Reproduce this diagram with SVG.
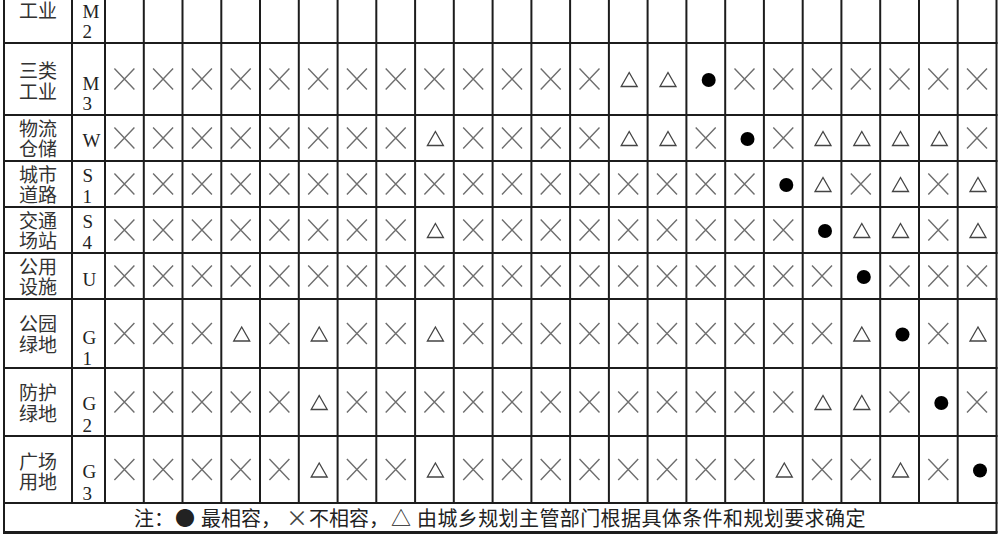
<svg xmlns="http://www.w3.org/2000/svg" xmlns:xlink="http://www.w3.org/1999/xlink" width="1000" height="535" viewBox="0 0 1000 535">
<style>
.bg{fill:#ffffff}
.grid line{stroke:#1c1c1c;stroke-width:2}
.lab{font-family:"Noto Sans CJK SC","Noto Sans",sans-serif;font-size:19px;fill:#333;text-anchor:middle}
.code{font-family:"Liberation Serif",serif;font-size:19px;fill:#222}
.note{font-family:"Noto Sans CJK SC","Noto Sans",sans-serif;font-size:20px;fill:#222}
</style>
<defs>
<g id="X"><path d="M-10,-10.5 L10,10.5 M10,-10.5 L-10,10.5" stroke="#6e6e6e" stroke-width="1.4" fill="none"/></g>
<g id="T"><polygon points="1,-6.5 9,7.5 -7,7.5" fill="none" stroke="#444" stroke-width="1.3" stroke-linejoin="miter"/></g>
<g id="O"><circle cx="3" cy="1" r="7" fill="#000"/></g>
</defs>
<rect class="bg" x="0" y="0" width="1000" height="535"/>

<g id="grid" class="grid">
<line x1="4" y1="0" x2="4" y2="533"/>
<line x1="72" y1="0" x2="72" y2="503"/>
<line x1="105" y1="0" x2="105" y2="503"/>
<line x1="143.8" y1="0" x2="143.8" y2="503"/>
<line x1="182.5" y1="0" x2="182.5" y2="503"/>
<line x1="221.3" y1="0" x2="221.3" y2="503"/>
<line x1="260" y1="0" x2="260" y2="503"/>
<line x1="298.8" y1="0" x2="298.8" y2="503"/>
<line x1="337.6" y1="0" x2="337.6" y2="503"/>
<line x1="376.3" y1="0" x2="376.3" y2="503"/>
<line x1="415.1" y1="0" x2="415.1" y2="503"/>
<line x1="453.8" y1="0" x2="453.8" y2="503"/>
<line x1="492.6" y1="0" x2="492.6" y2="503"/>
<line x1="531.4" y1="0" x2="531.4" y2="503"/>
<line x1="570.1" y1="0" x2="570.1" y2="503"/>
<line x1="608.9" y1="0" x2="608.9" y2="503"/>
<line x1="647.6" y1="0" x2="647.6" y2="503"/>
<line x1="686.4" y1="0" x2="686.4" y2="503"/>
<line x1="725.2" y1="0" x2="725.2" y2="503"/>
<line x1="763.9" y1="0" x2="763.9" y2="503"/>
<line x1="802.7" y1="0" x2="802.7" y2="503"/>
<line x1="841.4" y1="0" x2="841.4" y2="503"/>
<line x1="880.2" y1="0" x2="880.2" y2="503"/>
<line x1="919" y1="0" x2="919" y2="503"/>
<line x1="957.7" y1="0" x2="957.7" y2="503"/>
<line x1="996.5" y1="0" x2="996.5" y2="533"/>
<line x1="3" y1="43" x2="997.5" y2="43"/>
<line x1="3" y1="115" x2="997.5" y2="115"/>
<line x1="3" y1="161" x2="997.5" y2="161"/>
<line x1="3" y1="207" x2="997.5" y2="207"/>
<line x1="3" y1="253" x2="997.5" y2="253"/>
<line x1="3" y1="299" x2="997.5" y2="299"/>
<line x1="3" y1="368" x2="997.5" y2="368"/>
<line x1="3" y1="436" x2="997.5" y2="436"/>
<line x1="3" y1="503" x2="997.5" y2="503"/>
<line x1="3" y1="532.5" x2="997.5" y2="532.5" style="stroke-width:3"/>
</g>

<g id="row-M2">
<text class="lab" x="38" y="18">工业</text>
<text class="code"><tspan x="82.5" y="18">M</tspan><tspan x="82.5" y="38">2</tspan></text>
</g>

<g id="row-M3">
<text class="lab"><tspan x="38" y="78">三类</tspan><tspan x="38" y="99">工业</tspan></text>
<text class="code"><tspan x="82.5" y="90">M</tspan><tspan x="82.5" y="110">3</tspan></text>
<g transform="translate(0,79)">
<use href="#X" x="124.4"/><use href="#X" x="163.1"/><use href="#X" x="201.9"/><use href="#X" x="240.7"/><use href="#X" x="279.4"/><use href="#X" x="318.2"/><use href="#X" x="356.9"/><use href="#X" x="395.7"/><use href="#X" x="434.4"/><use href="#X" x="473.2"/><use href="#X" x="512"/><use href="#X" x="550.7"/><use href="#X" x="589.5"/><use href="#T" x="628.2"/><use href="#T" x="667"/><use href="#O" x="705.7"/><use href="#X" x="744.5"/><use href="#X" x="783.3"/><use href="#X" x="822"/><use href="#X" x="860.8"/><use href="#X" x="899.5"/><use href="#X" x="938.3"/><use href="#X" x="977"/>
</g>
</g>

<g id="row-W">
<text class="lab"><tspan x="38" y="136">物流</tspan><tspan x="38" y="156">仓储</tspan></text>
<text class="code" x="82.5" y="147">W</text>
<g transform="translate(0,138)">
<use href="#X" x="124.4"/><use href="#X" x="163.1"/><use href="#X" x="201.9"/><use href="#X" x="240.7"/><use href="#X" x="279.4"/><use href="#X" x="318.2"/><use href="#X" x="356.9"/><use href="#X" x="395.7"/><use href="#T" x="434.4"/><use href="#X" x="473.2"/><use href="#X" x="512"/><use href="#X" x="550.7"/><use href="#X" x="589.5"/><use href="#T" x="628.2"/><use href="#T" x="667"/><use href="#X" x="705.7"/><use href="#O" x="744.5"/><use href="#X" x="783.3"/><use href="#T" x="822"/><use href="#T" x="860.8"/><use href="#T" x="899.5"/><use href="#T" x="938.3"/><use href="#X" x="977"/>
</g>
</g>

<g id="row-S1">
<text class="lab"><tspan x="38" y="182">城市</tspan><tspan x="38" y="202">道路</tspan></text>
<text class="code"><tspan x="82.5" y="182">S</tspan><tspan x="82.5" y="203">1</tspan></text>
<g transform="translate(0,184)">
<use href="#X" x="124.4"/><use href="#X" x="163.1"/><use href="#X" x="201.9"/><use href="#X" x="240.7"/><use href="#X" x="279.4"/><use href="#X" x="318.2"/><use href="#X" x="356.9"/><use href="#X" x="395.7"/><use href="#X" x="434.4"/><use href="#X" x="473.2"/><use href="#X" x="512"/><use href="#X" x="550.7"/><use href="#X" x="589.5"/><use href="#X" x="628.2"/><use href="#X" x="667"/><use href="#X" x="705.7"/><use href="#X" x="744.5"/><use href="#O" x="783.3"/><use href="#T" x="822"/><use href="#X" x="860.8"/><use href="#T" x="899.5"/><use href="#X" x="938.3"/><use href="#T" x="977"/>
</g>
</g>

<g id="row-S4">
<text class="lab"><tspan x="38" y="228">交通</tspan><tspan x="38" y="248">场站</tspan></text>
<text class="code"><tspan x="82.5" y="228">S</tspan><tspan x="82.5" y="249">4</tspan></text>
<g transform="translate(0,230)">
<use href="#X" x="124.4"/><use href="#X" x="163.1"/><use href="#X" x="201.9"/><use href="#X" x="240.7"/><use href="#X" x="279.4"/><use href="#X" x="318.2"/><use href="#X" x="356.9"/><use href="#X" x="395.7"/><use href="#T" x="434.4"/><use href="#X" x="473.2"/><use href="#X" x="512"/><use href="#X" x="550.7"/><use href="#X" x="589.5"/><use href="#X" x="628.2"/><use href="#X" x="667"/><use href="#X" x="705.7"/><use href="#X" x="744.5"/><use href="#X" x="783.3"/><use href="#O" x="822"/><use href="#T" x="860.8"/><use href="#T" x="899.5"/><use href="#X" x="938.3"/><use href="#T" x="977"/>
</g>
</g>

<g id="row-U">
<text class="lab"><tspan x="38" y="274">公用</tspan><tspan x="38" y="294">设施</tspan></text>
<text class="code" x="82.5" y="286">U</text>
<g transform="translate(0,276)">
<use href="#X" x="124.4"/><use href="#X" x="163.1"/><use href="#X" x="201.9"/><use href="#X" x="240.7"/><use href="#X" x="279.4"/><use href="#X" x="318.2"/><use href="#X" x="356.9"/><use href="#X" x="395.7"/><use href="#X" x="434.4"/><use href="#X" x="473.2"/><use href="#X" x="512"/><use href="#X" x="550.7"/><use href="#X" x="589.5"/><use href="#X" x="628.2"/><use href="#X" x="667"/><use href="#X" x="705.7"/><use href="#X" x="744.5"/><use href="#X" x="783.3"/><use href="#X" x="822"/><use href="#O" x="860.8"/><use href="#X" x="899.5"/><use href="#X" x="938.3"/><use href="#X" x="977"/>
</g>
</g>

<g id="row-G1">
<text class="lab"><tspan x="38" y="331">公园</tspan><tspan x="38" y="352">绿地</tspan></text>
<text class="code"><tspan x="82.5" y="344">G</tspan><tspan x="82.5" y="365">1</tspan></text>
<g transform="translate(0,333.5)">
<use href="#X" x="124.4"/><use href="#X" x="163.1"/><use href="#X" x="201.9"/><use href="#T" x="240.7"/><use href="#X" x="279.4"/><use href="#T" x="318.2"/><use href="#X" x="356.9"/><use href="#X" x="395.7"/><use href="#T" x="434.4"/><use href="#X" x="473.2"/><use href="#X" x="512"/><use href="#X" x="550.7"/><use href="#X" x="589.5"/><use href="#X" x="628.2"/><use href="#X" x="667"/><use href="#X" x="705.7"/><use href="#X" x="744.5"/><use href="#X" x="783.3"/><use href="#X" x="822"/><use href="#T" x="860.8"/><use href="#O" x="899.5"/><use href="#X" x="938.3"/><use href="#T" x="977"/>
</g>
</g>

<g id="row-G2">
<text class="lab"><tspan x="38" y="400">防护</tspan><tspan x="38" y="421">绿地</tspan></text>
<text class="code"><tspan x="82.5" y="410">G</tspan><tspan x="82.5" y="432">2</tspan></text>
<g transform="translate(0,402)">
<use href="#X" x="124.4"/><use href="#X" x="163.1"/><use href="#X" x="201.9"/><use href="#X" x="240.7"/><use href="#X" x="279.4"/><use href="#T" x="318.2"/><use href="#X" x="356.9"/><use href="#X" x="395.7"/><use href="#X" x="434.4"/><use href="#X" x="473.2"/><use href="#X" x="512"/><use href="#X" x="550.7"/><use href="#X" x="589.5"/><use href="#X" x="628.2"/><use href="#X" x="667"/><use href="#X" x="705.7"/><use href="#X" x="744.5"/><use href="#X" x="783.3"/><use href="#T" x="822"/><use href="#T" x="860.8"/><use href="#X" x="899.5"/><use href="#O" x="938.3"/><use href="#X" x="977"/>
</g>
</g>

<g id="row-G3">
<text class="lab"><tspan x="38" y="469">广场</tspan><tspan x="38" y="489">用地</tspan></text>
<text class="code"><tspan x="82.5" y="478">G</tspan><tspan x="82.5" y="500">3</tspan></text>
<g transform="translate(0,469.5)">
<use href="#X" x="124.4"/><use href="#X" x="163.1"/><use href="#X" x="201.9"/><use href="#X" x="240.7"/><use href="#X" x="279.4"/><use href="#T" x="318.2"/><use href="#X" x="356.9"/><use href="#X" x="395.7"/><use href="#T" x="434.4"/><use href="#X" x="473.2"/><use href="#X" x="512"/><use href="#X" x="550.7"/><use href="#X" x="589.5"/><use href="#X" x="628.2"/><use href="#X" x="667"/><use href="#X" x="705.7"/><use href="#X" x="744.5"/><use href="#T" x="783.3"/><use href="#X" x="822"/><use href="#X" x="860.8"/><use href="#T" x="899.5"/><use href="#X" x="938.3"/><use href="#O" x="977"/>
</g>
</g>

<g id="note">
<text class="note" y="526"><tspan x="134">注：</tspan><tspan x="175">●</tspan><tspan x="201">最相容，</tspan><tspan x="286" font-size="22" fill="#444">×</tspan><tspan x="309">不相容，</tspan><tspan x="391">△</tspan><tspan x="417" letter-spacing="0.4">由城乡规划主管部门根据具体条件和规划要求确定</tspan></text>
</g>
</svg>
